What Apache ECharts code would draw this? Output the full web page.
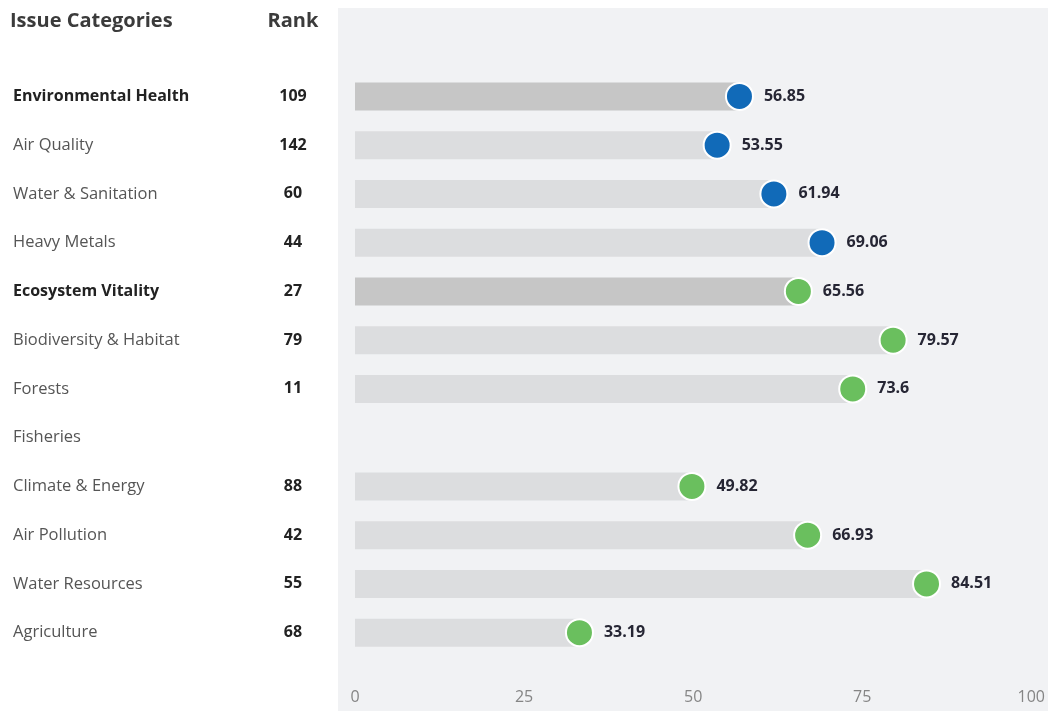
<!DOCTYPE html>
<html><head><meta charset="utf-8">
<script src="https://cdn.jsdelivr.net/npm/echarts@6/dist/echarts.min.js"></script>
<style>html,body{margin:0;padding:0;background:#fff}#c{width:1048px;height:711px}</style>
</head><body><div id="c"></div>
<script>
const categories = ['Environmental Health','Air Quality','Water & Sanitation','Heavy Metals','Ecosystem Vitality','Biodiversity & Habitat','Forests','Fisheries','Climate & Energy','Air Pollution','Water Resources','Agriculture'];
const ranks = ['109','142','60','44','27','79','11','','88','42','55','68'];
const scores = [56.85,53.55,61.94,69.06,65.56,79.57,73.6,null,49.82,66.93,84.51,33.19];
const headerRows = ['Environmental Health','Ecosystem Vitality'];
const groupOf = ['health','health','health','health','eco','eco','eco','eco','eco','eco','eco','eco'];
const xTicks = [0,25,50,75,100];

const FONT = '"Open Sans", sans-serif';
const LFONT = '"Open Sans", sans-serif';
const chart = echarts.init(document.getElementById('c'));
const isHeader = c => headerRows.includes(c);

chart.setOption({
  animation:false,
  textStyle:{fontFamily:FONT},
  graphic:[
    {type:'rect', z:-100, shape:{x:338,y:8,width:720,height:720}, style:{fill:'#f1f2f4'}},
    {type:'text', left:10, top:11, style:{text:'Issue Categories', font:'bold 20px '+FONT, fill:'#3b3b3b'}},
    {type:'text', x:293, y:11, style:{text:'Rank', font:'bold 20px '+FONT, fill:'#3b3b3b', align:'center'}}
  ],
  grid:{left:355, right:13, top:72, bottom:54, containLabel:false},
  xAxis:{type:'value', min:xTicks[0], max:xTicks[xTicks.length-1], interval:25,
    splitLine:{show:false}, axisLine:{show:false}, axisTick:{show:false},
    axisLabel:{color:'#858585', fontSize:16, margin:32, fontFamily:FONT}},
  yAxis:[
    {type:'category', data:categories, inverse:true, axisLine:{show:false}, axisTick:{show:false},
     axisLabel:{align:'left', margin:342, fontSize:16, fontFamily:LFONT,
       formatter:v=> isHeader(v) ? '{h|'+v+'}' : '{n|'+v+'}',
       rich:{h:{fontWeight:'bold', color:'#222', fontSize:16, fontFamily:LFONT},
             n:{color:'#555', fontSize:16.5, fontFamily:LFONT}}}},
    {type:'category', data:categories, inverse:true, position:'left', axisLine:{show:false}, axisTick:{show:false},
     axisLabel:{align:'center', margin:62, fontSize:16, fontWeight:'bold', color:'#222', fontFamily:FONT,
       formatter:(v,i)=>ranks[i]}}
  ],
  series:[
    {type:'bar', yAxisIndex:0, barWidth:28, silent:true,
     data:scores.map((s,i)=>({value:s, itemStyle:{color: isHeader(categories[i]) ? '#c6c6c6' : '#dcdddf'}}))},
    {type:'scatter', yAxisIndex:0, symbolSize:27, z:5,
     itemStyle:{opacity:1},
     data:scores.map((s,i)=>s==null?null:({value:[s,i], itemStyle:{opacity:1, color: groupOf[i]==='health' ? '#116ab8' : '#6abf5e', borderColor:'#fff', borderWidth:2}})),
     label:{show:true, position:'right', distance:10, fontSize:16, fontWeight:'bold', color:'#262634', fontFamily:FONT,
       formatter:p=>String(p.value[0])}}
  ]
});
</script></body></html>
